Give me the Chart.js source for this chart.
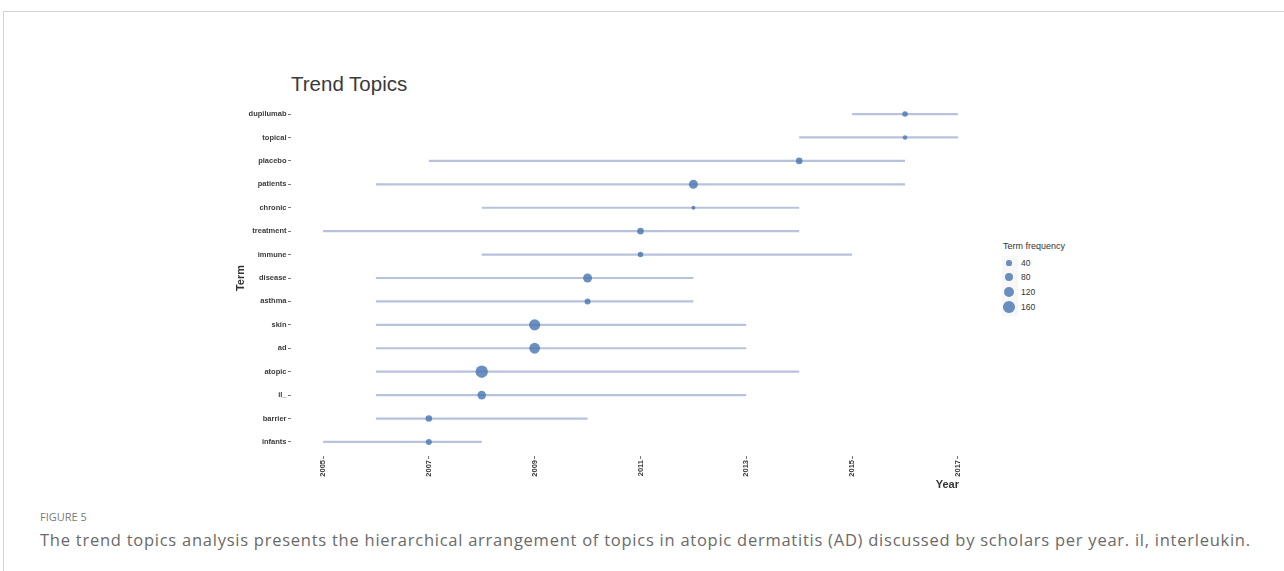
<!DOCTYPE html>
<html>
<head>
<meta charset="utf-8">
<script src="https://cdn.jsdelivr.net/npm/chart.js@4.4.1/dist/chart.umd.min.js"></script>
<style>
  html, body { margin: 0; padding: 0; background: #fff; }
  body { width: 1284px; height: 571px; position: relative; overflow: hidden; font-family: "Liberation Sans", Arial, sans-serif; }
  #frame { position: absolute; left: 3px; top: 11px; right: 0; bottom: 0; border-top: 1px solid #d4d4d4; border-left: 1px solid #d4d4d4; }
  #title { position: absolute; left: 291px; top: 71px; font-size: 20.5px; color: #3a3a3a; line-height: 26px; white-space: nowrap; }
  #wrap { position: absolute; left: 230px; top: 90px; width: 770px; height: 410px; }
  #legend { position: absolute; left: 1002px; top: 240px; font-size: 9px; color: #333; }
  #legend .lt { position: absolute; left: 1px; top: 0; white-space: nowrap; line-height: 12px; }
  #legend .keys { position: absolute; left: 0px; top: 16px; width: 16px; height: 60px; background: #f7f7f7; }
  #legend .dot { position: absolute; border-radius: 50%; background: rgba(74,120,178,0.82); }
  #legend .lab { position: absolute; left: 19px; font-size: 8.5px; line-height: 10px; white-space: nowrap; }
  #fig { position: absolute; left: 40px; top: 509px; font-family: "Open Sans", sans-serif; font-size: 11px; color: #7a7a7a; letter-spacing: 0px; }
  #cap { position: absolute; left: 40px; top: 529px; font-family: "Open Sans", sans-serif; font-size: 16.5px; letter-spacing: 0.75px; color: #6a6a6a; white-space: nowrap; line-height: 22px; }
</style>
</head>
<body>
<div id="frame"></div>
<div id="title">Trend Topics</div>
<div id="wrap"><canvas id="c" width="770" height="410"></canvas></div>
<div id="legend"></div>
<div id="fig">FIGURE 5</div>
<div id="cap">The trend topics analysis presents the hierarchical arrangement of topics in atopic dermatitis (AD) discussed by scholars per year. il, interleukin.</div>
<script>
// ---- data ----
const terms      = ["dupilumab","topical","placebo","patients","chronic","treatment","immune","disease","asthma","skin","ad","atopic","il_","barrier","infants"];
const yearStart  = [2015, 2014, 2007, 2006, 2008, 2005, 2008, 2006, 2006, 2006, 2006, 2006, 2006, 2006, 2005];
const yearEnd    = [2017, 2017, 2016, 2016, 2014, 2014, 2015, 2012, 2012, 2013, 2013, 2014, 2013, 2010, 2008];
const yearMedian = [2016, 2016, 2014, 2012, 2012, 2011, 2011, 2010, 2010, 2009, 2009, 2008, 2008, 2007, 2007];
const termFreq   = [44, 32, 58, 100, 26, 58, 44, 100, 50, 148, 138, 178, 92, 58, 50];
const xTickYears = [2005, 2007, 2009, 2011, 2013, 2015, 2017];
const legendFreq = [40, 80, 120, 160];

const sizeOf = f => Math.max(1.5, -0.6 + 0.51 * Math.sqrt(f));
const lineColor = "#b8c2dd";
const dotColor = "rgba(74,120,178,0.82)";

const datasets = [];
datasets.push({
  type: "bubble",
  order: 0,
  data: terms.map((t, i) => ({ x: yearMedian[i], y: i, r: sizeOf(termFreq[i]) })),
  backgroundColor: dotColor,
  borderWidth: 0,
  hoverBorderWidth: 0
});
terms.forEach((t, i) => {
  datasets.push({
    type: "line",
    order: 1,
    label: t,
    data: [{ x: yearStart[i], y: i }, { x: yearEnd[i], y: i }],
    borderColor: lineColor,
    borderWidth: 2.2,
    pointRadius: 0,
    borderCapStyle: "butt",
    fill: false
  });
});

const tickFont = { family: "'Liberation Sans', Arial, sans-serif", size: 7.5, weight: "bold" };

new Chart(document.getElementById("c"), {
  data: { datasets },
  options: {
    responsive: false,
    animation: false,
    events: [],
    layout: { padding: { top: 10, right: 41, bottom: 4, left: 0 } },
    plugins: { legend: { display: false }, tooltip: { enabled: false }, title: { display: false } },
    scales: {
      x: {
        type: "linear",
        min: 2004.395,
        max: 2017.02,
        afterBuildTicks: s => { s.ticks = xTickYears.map(v => ({ value: v })); },
        afterFit: s => { s.height = 40; },
        ticks: { autoSkip: false, minRotation: 90, maxRotation: 90, padding: 1, color: "#3a3a3a", font: tickFont, callback: v => String(v) },
        grid: { display: true, drawOnChartArea: false, drawTicks: true, tickLength: 3, color: "#555", lineWidth: 0.8 },
        border: { display: false },
        title: { display: true, text: "Year", align: "end", color: "#333", font: { family: "'Liberation Sans', Arial, sans-serif", size: 11, weight: "bold" }, padding: { top: 0, bottom: 4 } }
      },
      y: {
        type: "linear",
        reverse: true,
        min: -0.6,
        max: terms.length - 1 + 0.6,
        afterBuildTicks: s => { s.ticks = terms.map((t, i) => ({ value: i })); },
        afterFit: s => { s.width = 61; },
        ticks: { autoSkip: false, padding: 1.5, color: "#3a3a3a", font: tickFont, callback: v => terms[v] },
        grid: { display: true, drawOnChartArea: false, drawTicks: true, tickLength: 3, color: "#555", lineWidth: 0.8 },
        border: { display: false },
        title: { display: true, text: "Term", color: "#333", font: { family: "'Liberation Sans', Arial, sans-serif", size: 11, weight: "bold" }, padding: { top: 4, bottom: 0 } }
      }
    }
  }
});

// legend for term frequency (sizes from the same mapping)
const lg = document.getElementById("legend");
lg.innerHTML = '<div class="lt">Term frequency</div><div class="keys"></div>';
const keyY = [23, 37, 52, 67];
legendFreq.forEach((f, i) => {
  const r = sizeOf(f);
  const d = document.createElement("div");
  d.className = "dot";
  d.style.width = (2 * r) + "px"; d.style.height = (2 * r) + "px";
  d.style.left = (7 - r) + "px"; d.style.top = (keyY[i] - r) + "px";
  lg.appendChild(d);
  const l = document.createElement("div");
  l.className = "lab";
  l.textContent = String(f);
  l.style.top = (keyY[i] - 5) + "px";
  lg.appendChild(l);
});
</script>
</body>
</html>
